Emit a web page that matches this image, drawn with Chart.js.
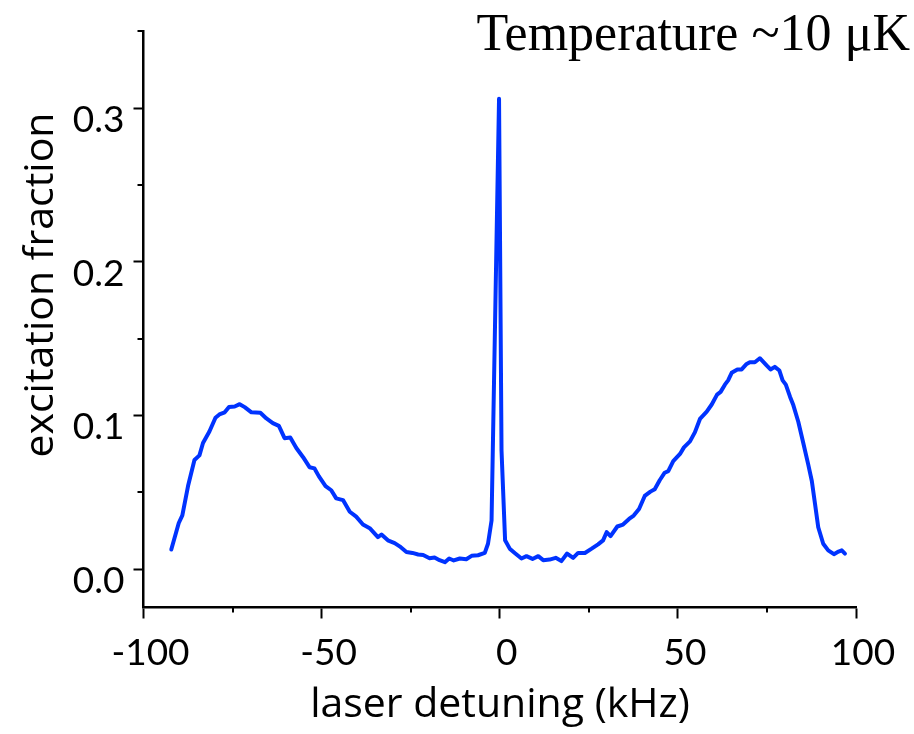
<!DOCTYPE html>
<html>
<head>
<meta charset="utf-8">
<script src="https://cdn.jsdelivr.net/npm/chart.js@4/dist/chart.umd.min.js"></script>
<style>
  html, body { margin: 0; padding: 0; background: #fff; }
  #wrap { width: 914px; height: 734px; }
</style>
</head>
<body>
<div id="wrap"><canvas id="spectrum" width="914" height="734"></canvas></div>
<script>
// spectrum: laser detuning (kHz) vs excitation fraction
const detuning = [
  -92.2, -90.1, -89.1, -87.5, -85.7, -84.3, -83.3, -81.5, -79.8, -78.7,
  -77.2, -76.0, -74.4, -73.0, -71.6, -69.7, -67.2, -65.5, -63.7, -62.0,
  -60.4, -58.8, -57.1, -55.2, -53.4, -52.0, -50.8, -48.9, -47.3, -45.9,
  -44.0, -42.1, -40.3, -38.4, -36.5, -34.2, -33.2, -31.4, -29.5, -28.1,
  -26.2, -24.5, -22.9, -21.5, -19.7, -18.3, -16.9, -15.4, -14.2, -12.9,
  -11.2, -9.4, -7.9, -6.1, -4.2, -3.3, -2.3, -0.2, 0.5, 1.5,
  2.8, 4.2, 6.1, 7.5, 9.2, 10.8, 12.2, 14.0, 15.7, 17.3,
  18.9, 20.6, 22.0, 23.9, 25.8, 27.6, 29.0, 30.0, 31.1, 33.0,
  34.6, 36.3, 37.6, 39.1, 40.7, 42.3, 43.5, 44.9, 46.3, 47.3,
  48.7, 50.6, 51.7, 53.4, 54.8, 56.2, 58.1, 59.5, 61.0, 62.0,
  63.2, 64.1, 65.1, 66.7, 67.9, 69.3, 70.2, 71.6, 73.0, 74.9,
  76.0, 77.2, 78.5, 79.4, 80.3, 81.5, 82.4, 83.8, 85.2, 86.6,
  87.6, 88.5, 89.4, 90.8, 92.2, 93.8, 95.1, 96.0, 96.9
];
const excitation = [
  0.0127, 0.0300, 0.0350, 0.0540, 0.0710, 0.0740, 0.0820, 0.0895, 0.0985, 0.1006,
  0.1020, 0.1054, 0.1058, 0.1073, 0.1054, 0.1020, 0.1017, 0.0980, 0.0950, 0.0932,
  0.0852, 0.0856, 0.0788, 0.0728, 0.0663, 0.0655, 0.0605, 0.0540, 0.0513, 0.0460,
  0.0449, 0.0373, 0.0341, 0.0290, 0.0266, 0.0208, 0.0225, 0.0187, 0.0169, 0.0148,
  0.0111, 0.0105, 0.0095, 0.0092, 0.0071, 0.0075, 0.0058, 0.0045, 0.0069, 0.0056,
  0.0069, 0.0064, 0.0086, 0.0090, 0.0105, 0.0165, 0.0316, 0.3060, 0.0770, 0.0187,
  0.0133, 0.0105, 0.0069, 0.0084, 0.0066, 0.0084, 0.0058, 0.0062, 0.0073, 0.0052,
  0.0101, 0.0073, 0.0105, 0.0105, 0.0133, 0.0161, 0.0187, 0.0240, 0.0214, 0.0277,
  0.0290, 0.0326, 0.0348, 0.0391, 0.0476, 0.0504, 0.0520, 0.0578, 0.0627, 0.0637,
  0.0702, 0.0749, 0.0792, 0.0831, 0.0891, 0.0977, 0.1024, 0.1071, 0.1135, 0.1153,
  0.1200, 0.1228, 0.1277, 0.1299, 0.1299, 0.1335, 0.1346, 0.1346, 0.1372, 0.1325,
  0.1299, 0.1316, 0.1292, 0.1228, 0.1200, 0.1120, 0.1067, 0.0959, 0.0820, 0.0680,
  0.0573, 0.0423, 0.0272, 0.0165, 0.0122, 0.0097, 0.0114, 0.0122, 0.0101
];

const xTicks = [-100, -50, 0, 50, 100];
const xMinorTicks = [-75, -25, 25, 75];
const yTicks = [0.0, 0.1, 0.2, 0.3];
const yMinorTicks = [0.05, 0.15, 0.25, 0.35];

const xTitle = 'laser detuning (kHz)';
const yTitle = 'excitation fraction';
const header = 'Temperature ~10 \u03bcK';

const TICK_FONT = 'Lato, "Open Sans", sans-serif';
const TITLE_FONT = '"Open Sans", Lato, sans-serif';

// short minor ticks + axis titles + header text
const decor = {
  id: 'decor',
  afterDraw(chart) {
    const ctx = chart.ctx;
    const xs = chart.scales.x, ys = chart.scales.y;
    const area = chart.chartArea;
    ctx.save();
    ctx.strokeStyle = '#000';
    ctx.lineWidth = 2;
    xMinorTicks.forEach(v => {
      const px = Math.round(xs.getPixelForValue(v));
      ctx.beginPath();
      ctx.moveTo(px, area.bottom);
      ctx.lineTo(px, area.bottom + 5);
      ctx.stroke();
    });
    yMinorTicks.forEach(v => {
      const py = Math.round(ys.getPixelForValue(v));
      ctx.beginPath();
      ctx.moveTo(area.left, py);
      ctx.lineTo(area.left - 6, py);
      ctx.stroke();
    });

    ctx.fillStyle = '#000';
    ctx.font = '41px ' + TITLE_FONT;
    ctx.textAlign = 'center';
    ctx.textBaseline = 'alphabetic';
    ctx.fillText(xTitle, 500, 717);

    ctx.save();
    ctx.translate(53, 285);
    ctx.rotate(-Math.PI / 2);
    ctx.fillText(yTitle, 0, 0);
    ctx.restore();

    ctx.font = '52px "Liberation Serif", "Times New Roman", serif';
    ctx.textAlign = 'right';
    ctx.fillText(header, 910, 50);
    ctx.restore();
  }
};

new Chart(document.getElementById('spectrum'), {
  type: 'line',
  data: {
    datasets: [{
      data: detuning.map((x, i) => ({ x: x, y: excitation[i] })),
      borderColor: 'rgb(0, 51, 255)',
      borderWidth: 4,
      borderJoinStyle: 'round',
      borderCapStyle: 'round',
      pointRadius: 0,
      tension: 0,
      fill: false
    }]
  },
  options: {
    responsive: false,
    animation: false,
    layout: { padding: { top: 27, right: 58, left: 0, bottom: 0 } },
    plugins: { legend: { display: false }, tooltip: { enabled: false } },
    scales: {
      x: {
        type: 'linear',
        min: -100,
        max: 100,
        afterBuildTicks: axis => { axis.ticks = xTicks.map(v => ({ value: v })); },
        afterFit: axis => { axis.height = 126.5; },
        border: { display: true, color: '#000', width: 2.5 },
        grid: { drawOnChartArea: false, drawTicks: true, tickLength: 11, tickWidth: 2, tickColor: '#000' },
        ticks: {
          autoSkip: false,
          maxRotation: 0,
          padding: 12,
          labelOffset: 7,
          color: '#000',
          font: { family: TICK_FONT, size: 37 },
          callback: v => String(v)
        }
      },
      y: {
        type: 'linear',
        min: -0.025,
        max: 0.35,
        afterBuildTicks: axis => { axis.ticks = yTicks.map(v => ({ value: v })); },
        afterFit: axis => { axis.width = 143.5; },
        border: { display: true, color: '#000', width: 2.5 },
        grid: { drawOnChartArea: false, drawTicks: true, tickLength: 10, tickWidth: 2, tickColor: '#000' },
        ticks: {
          autoSkip: false,
          padding: 9,
          labelOffset: 12,
          color: '#000',
          font: { family: TICK_FONT, size: 37 },
          callback: v => v.toFixed(1)
        }
      }
    }
  },
  plugins: [decor]
});
</script>
</body>
</html>
